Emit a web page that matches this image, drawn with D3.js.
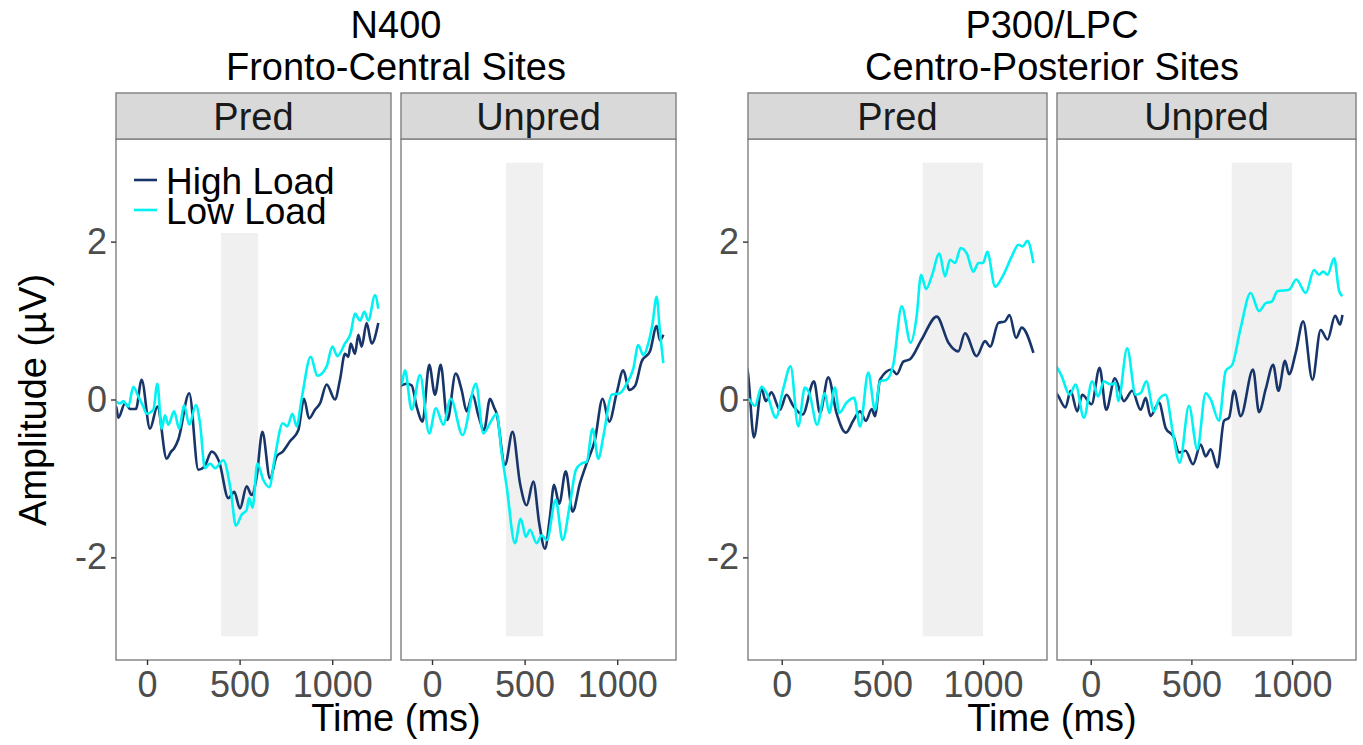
<!DOCTYPE html>
<html>
<head>
<meta charset="utf-8">
<script src="https://cdn.jsdelivr.net/npm/d3@7"></script>
<style>
	body { margin: 0; background: #ffffff; }
	text { font-family: "Liberation Sans", Arial, Helvetica, sans-serif; }
</style>
</head>
<body>
<svg id="chart" width="1363" height="745"></svg>
<script>
var conditions = ["Pred", "Unpred"];
var loads = ["High Load", "Low Load"];
var x_ticks = [0, 500, 1000];
var y_ticks = [-2, 0, 2];
var group_titles = [["N400", "Fronto-Central Sites"], ["P300/LPC", "Centro-Posterior Sites"]];
var windows = [[400, 600], [700, 1000]];

// [time ms, amplitude uV]
var n400_pred_high = [[-200,-0.05],[-167,-0.09],[-155,-0.23],[-119,-0.05],[-90,-0.12],[-60,-0.12],[-29,0.25],[16,-0.37],[56,-0.09],[106,-0.75],[130,-0.66],[146,-0.62],[170,-0.5],[228,0.08],[277,-0.89],[310,-0.85],[349,-0.66],[390,-0.79],[439,-1.25],[471,-1.17],[502,-1.38],[538,-1.1],[565,-1.21],[592,-0.98],[623,-0.41],[664,-1.0],[700,-0.72],[733,-0.66],[772,-0.53],[817,-0.39],[848,0.01],[875,-0.24],[907,-0.13],[934,-0.05],[970,0.19],[1015,0.0],[1042,0.25],[1069,0.58],[1087,0.54],[1100,0.71],[1123,0.58],[1141,0.82],[1159,0.67],[1186,0.97],[1213,0.71],[1249,0.97]];
var n400_pred_low = [[-200,-0.02],[-167,-0.03],[-146,-0.05],[-128,-0.02],[-101,-0.09],[-74,0.16],[-47,0.04],[-20,-0.09],[-2,-0.18],[34,-0.13],[56,0.2],[79,-0.37],[97,-0.2],[115,-0.32],[146,-0.15],[174,-0.37],[200,-0.07],[228,-0.32],[264,-0.07],[286,-0.3],[313,-0.87],[340,-0.81],[367,-0.87],[412,-0.77],[452,-1.15],[480,-1.6],[511,-1.46],[538,-1.4],[551,-1.25],[570,-1.37],[596,-0.81],[628,-1.02],[660,-1.11],[691,-0.72],[733,-0.3],[758,-0.34],[785,-0.18],[808,-0.34],[835,0.01],[884,0.54],[920,0.3],[970,0.42],[1001,0.67],[1028,0.55],[1069,0.71],[1100,0.84],[1123,1.09],[1150,1.0],[1174,1.11],[1195,1.0],[1231,1.32],[1249,1.15]];
var n400_unpred_high = [[-200,0.15],[-164,0.18],[-137,0.2],[-110,0.18],[-83,-0.09],[-51,-0.28],[-15,0.44],[16,0.06],[47,0.44],[83,-0.26],[128,0.33],[160,0.12],[187,-0.15],[219,0.06],[250,-0.2],[281,-0.39],[313,0.01],[335,-0.1],[349,-0.18],[394,-0.83],[435,-0.41],[475,-1.06],[511,-1.34],[547,-1.04],[579,-1.57],[610,-1.89],[637,-1.48],[659,-1.08],[687,-1.32],[722,-0.91],[759,-1.42],[799,-1.06],[835,-0.81],[880,-0.51],[921,0.01],[957,-0.28],[997,0.08],[1033,0.37],[1065,0.12],[1096,0.17],[1132,0.48],[1177,0.61],[1213,0.93],[1231,0.75],[1249,0.82]];
var n400_unpred_low = [[-200,0.15],[-164,0.2],[-146,0.37],[-110,-0.13],[-65,0.31],[-15,-0.43],[21,-0.11],[61,-0.32],[101,0.01],[165,-0.45],[237,0.2],[277,-0.43],[313,-0.3],[349,-0.18],[376,-0.68],[403,-1.1],[448,-1.82],[479,-1.51],[507,-1.74],[529,-1.65],[565,-1.82],[592,-1.72],[620,-1.78],[668,-1.27],[705,-1.78],[745,-1.32],[777,-0.89],[808,-0.81],[835,-0.79],[867,-0.37],[898,-0.75],[925,-0.47],[970,0.06],[1015,0.08],[1051,0.2],[1087,0.39],[1114,0.69],[1141,0.56],[1168,0.71],[1190,0.95],[1213,1.3],[1231,0.85],[1249,0.46]];
var p300_pred_high = [[-200,0.45],[-172,0.4],[-138,-0.48],[-100,0.13],[-79,-0.02],[-51,0.09],[-9,-0.13],[24,0.06],[57,-0.08],[104,-0.19],[160,0.23],[190,-0.17],[231,0.28],[272,-0.17],[319,-0.42],[355,-0.27],[389,-0.15],[418,-0.27],[447,-0.12],[463,-0.21],[488,0.25],[546,0.38],[571,0.32],[604,0.48],[637,0.51],[695,0.76],[770,1.05],[828,0.72],[877,0.61],[910,0.84],[968,0.55],[1010,0.74],[1035,0.67],[1076,0.97],[1109,0.99],[1131,1.07],[1164,0.78],[1192,0.91],[1250,0.59]];
var p300_pred_low = [[-200,0.0],[-172,0.02],[-133,-0.08],[-100,0.16],[-75,0.08],[-29,-0.23],[7,0.13],[44,0.42],[82,-0.34],[115,0.15],[137,0.08],[176,-0.32],[214,0.08],[236,-0.17],[264,0.15],[286,-0.17],[322,-0.04],[359,0.02],[389,-0.34],[430,0.34],[463,-0.13],[488,0.23],[521,0.25],[554,0.44],[596,1.18],[640,0.72],[670,1.05],[692,1.58],[717,1.4],[745,1.56],[783,1.85],[811,1.56],[836,1.77],[861,1.73],[889,1.92],[919,1.85],[952,1.62],[977,1.73],[1000,1.73],[1021,1.87],[1060,1.43],[1101,1.58],[1142,1.81],[1176,1.96],[1197,1.94],[1220,2.01],[1250,1.73]];
var p300_unpred_high = [[-200,0.1],[-172,0.08],[-125,-0.1],[-100,0.11],[-67,-0.15],[-42,0.06],[4,-0.06],[44,0.4],[77,-0.13],[120,0.27],[165,-0.02],[206,0.11],[248,-0.13],[273,0.02],[297,-0.21],[339,-0.04],[372,-0.36],[413,-0.48],[438,-0.67],[471,-0.65],[508,-0.82],[546,-0.57],[571,-0.72],[596,-0.63],[629,-0.86],[662,-0.27],[687,-0.23],[712,0.11],[745,-0.21],[806,0.38],[836,-0.16],[869,0.13],[906,0.44],[932,0.11],[965,0.49],[985,0.32],[1018,0.59],[1055,0.99],[1101,0.25],[1142,0.88],[1176,0.76],[1214,1.06],[1239,0.95],[1250,1.07]];
var p300_unpred_low = [[-200,0.45],[-172,0.42],[-145,0.3],[-105,0.06],[-75,0.19],[-34,-0.23],[7,0.23],[37,0.04],[65,0.23],[98,0.19],[123,0.21],[137,-0.02],[181,0.65],[223,0.06],[248,0.08],[276,0.23],[314,-0.15],[339,0.0],[372,0.06],[408,-0.42],[442,-0.8],[488,-0.08],[529,-0.63],[571,0.08],[596,0.0],[637,-0.27],[670,0.36],[703,0.44],[745,0.91],[794,1.35],[836,1.12],[869,1.22],[899,1.24],[927,1.37],[985,1.39],[1021,1.52],[1068,1.35],[1109,1.64],[1134,1.58],[1154,1.62],[1176,1.58],[1209,1.79],[1234,1.37],[1250,1.31]];

var series = [
	[[n400_pred_high, n400_pred_low], [n400_unpred_high, n400_unpred_low]],
	[[p300_pred_high, p300_pred_low], [p300_unpred_high, p300_unpred_low]]
];

(function(){
	var svg = d3.select("#chart");
	var load_colors = ["#18356a", "#00f2f2"];
	var border_color = "#7f7f7f";
	var font_big = "38px";
	var font_tick = "36px";

	var panel_top = 139, panel_bottom = 660, strip_top = 93;
	var groups = [
		{lefts: [116, 401], width: 275, center: 396},
		{lefts: [748, 1057], width: 299, center: 1052}
	];

	var y = d3.scaleLinear().domain([-3.3, 3.3]).range([panel_bottom, panel_top]);

	groups.forEach(function(g, gi){
		conditions.forEach(function(cond, ci){
			var x0 = g.lefts[ci];
			var x = d3.scaleLinear().domain([-167.5, 1317.5]).range([x0, x0 + g.width]);
			var clip_id = "clip_" + gi + "_" + ci;

			svg.append("clipPath")
				.attr("id", clip_id)
				.append("rect")
				.attr("x", x0)
				.attr("y", panel_top)
				.attr("width", g.width)
				.attr("height", panel_bottom - panel_top);

			var panel = svg.append("g").attr("clip-path", "url(#" + clip_id + ")");

			panel.append("rect")
				.attr("x", x(windows[gi][0]))
				.attr("y", y(3))
				.attr("width", x(windows[gi][1]) - x(windows[gi][0]))
				.attr("height", y(-3) - y(3))
				.attr("fill", "#f0f0f0");

			var line = d3.line()
				.x(function(d){ return x(d[0]); })
				.y(function(d){ return y(d[1]); })
				.curve(d3.curveMonotoneX);

			// legend box sits over the window in the first panel
			if (gi == 0 && ci == 0){
				panel.append("rect")
					.attr("x", 122)
					.attr("y", 150)
					.attr("width", 226)
					.attr("height", 83)
					.attr("fill", "#ffffff");
			}

			series[gi][ci].forEach(function(s, li){
				panel.append("path")
					.datum(s)
					.attr("d", line)
					.attr("fill", "none")
					.attr("stroke", load_colors[li])
					.attr("stroke-width", 2.6)
					.attr("stroke-linejoin", "round");
			});

			svg.append("rect")
				.attr("x", x0)
				.attr("y", panel_top)
				.attr("width", g.width)
				.attr("height", panel_bottom - panel_top)
				.attr("fill", "none")
				.attr("stroke", border_color)
				.attr("stroke-width", 1.4);

			svg.append("rect")
				.attr("x", x0)
				.attr("y", strip_top)
				.attr("width", g.width)
				.attr("height", panel_top - strip_top)
				.attr("fill", "#d9d9d9")
				.attr("stroke", border_color)
				.attr("stroke-width", 1.4);

			svg.append("text")
				.attr("x", x0 + g.width / 2)
				.attr("y", 130)
				.attr("text-anchor", "middle")
				.attr("font-size", font_big)
				.attr("fill", "#1a1a1a")
				.text(cond);

			var xaxis = svg.append("g")
				.attr("transform", "translate(0," + panel_bottom + ")")
				.call(d3.axisBottom(x).tickValues(x_ticks).tickSize(5).tickPadding(6)
					.tickFormat(function(d){ return String(d); }));
			xaxis.select(".domain").remove();
			xaxis.selectAll("line").attr("stroke", "#333333").attr("stroke-width", 1.4);
			xaxis.selectAll("text")
				.attr("font-size", font_tick)
				.attr("fill", "#4d4d4d")
				.style("font-family", "'Liberation Sans', Arial, sans-serif");

			if (ci == 0){
				var yaxis = svg.append("g")
					.attr("transform", "translate(" + x0 + ",0)")
					.call(d3.axisLeft(y).tickValues(y_ticks).tickSize(5).tickPadding(4)
						.tickFormat(function(d){ return String(d); }));
				yaxis.select(".domain").remove();
				yaxis.selectAll("line").attr("stroke", "#333333").attr("stroke-width", 1.4);
				yaxis.selectAll("text")
					.attr("font-size", font_tick)
					.attr("fill", "#4d4d4d")
					.style("font-family", "'Liberation Sans', Arial, sans-serif");
			}
		});

		svg.append("text")
			.attr("x", g.center)
			.attr("y", 38)
			.attr("text-anchor", "middle")
			.attr("font-size", font_big)
			.text(group_titles[gi][0]);

		svg.append("text")
			.attr("x", g.center)
			.attr("y", 80)
			.attr("text-anchor", "middle")
			.attr("font-size", font_big)
			.text(group_titles[gi][1]);

		svg.append("text")
			.attr("x", g.center)
			.attr("y", 731)
			.attr("text-anchor", "middle")
			.attr("font-size", font_big)
			.text("Time (ms)");
	});

	svg.append("text")
		.attr("transform", "translate(46,400) rotate(-90)")
		.attr("text-anchor", "middle")
		.attr("font-size", font_big)
		.text("Amplitude (\u00b5V)");

	// legend
	loads.forEach(function(name, i){
		svg.append("line")
			.attr("x1", 134)
			.attr("x2", 157)
			.attr("y1", 180 + i * 30)
			.attr("y2", 180 + i * 30)
			.attr("stroke", load_colors[i])
			.attr("stroke-width", 2.6);

		svg.append("text")
			.attr("x", 166)
			.attr("y", 194 + i * 30)
			.attr("font-size", "37px")
			.text(name);
	});
})();
</script>
</body>
</html>
